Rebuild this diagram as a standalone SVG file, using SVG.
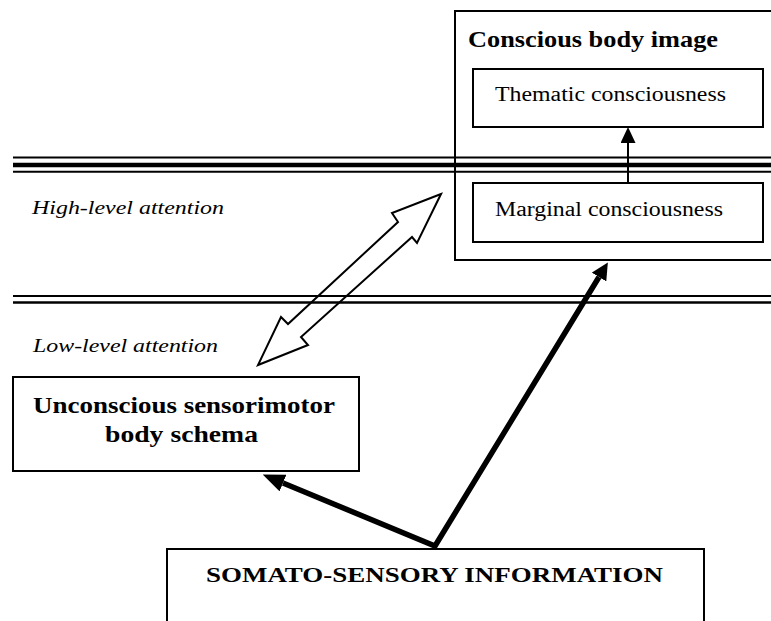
<svg xmlns="http://www.w3.org/2000/svg" width="771" height="621" viewBox="0 0 771 621">
<style>
.box{fill:#fff;stroke:#000;stroke-width:2}
.t{font-family:"Liberation Serif","Times New Roman",serif;fill:#000}
.b{font-weight:bold}
.i{font-style:italic}
.ln{stroke:#000;fill:none}
</style>
<defs>
<marker id="hL" markerUnits="userSpaceOnUse" viewBox="0 0 22 18" refX="0" refY="9" markerWidth="22" markerHeight="18" orient="auto-start-reverse"><path d="M0,0 L22,9 L0,18 z" fill="#000"/></marker>
<marker id="hR" markerUnits="userSpaceOnUse" viewBox="0 0 17 17" refX="0" refY="8.5" markerWidth="17" markerHeight="17" orient="auto"><path d="M0,0 L17,8.5 L0,17 z" fill="#000"/></marker>
<marker id="hS" markerUnits="userSpaceOnUse" viewBox="0 0 16 15" refX="0" refY="7.5" markerWidth="16" markerHeight="15" orient="auto"><path d="M0,0 L16,7.5 L0,15 z" fill="#000"/></marker>
</defs>

<g id="conscious-body-image">
<rect class="box" x="455" y="11" width="330" height="249"/>
<text class="t b" x="468" y="47" font-size="23" textLength="250" lengthAdjust="spacingAndGlyphs">Conscious body image</text>
</g>

<g id="levels">
<line class="ln" x1="13" y1="157.5" x2="771" y2="157.5" stroke-width="2"/>
<line class="ln" x1="13" y1="165" x2="771" y2="165" stroke-width="4.5"/>
<line class="ln" x1="13" y1="171.7" x2="771" y2="171.7" stroke-width="2"/>
<line class="ln" x1="13" y1="296" x2="771" y2="296" stroke-width="2"/>
<line class="ln" x1="13" y1="302.5" x2="771" y2="302.5" stroke-width="2.5"/>
<text class="t i" x="32" y="214" font-size="19.5" textLength="192" lengthAdjust="spacingAndGlyphs">High-level attention</text>
<text class="t i" x="33" y="352" font-size="19.5" textLength="185" lengthAdjust="spacingAndGlyphs">Low-level attention</text>
</g>

<g id="thematic">
<rect class="box" x="473" y="69" width="290" height="58"/>
<text class="t" x="495" y="101" font-size="20" textLength="231" lengthAdjust="spacingAndGlyphs">Thematic consciousness</text>
</g>

<g id="marginal">
<rect class="box" x="473" y="183" width="290" height="59"/>
<text class="t" x="495" y="216" font-size="20" textLength="228" lengthAdjust="spacingAndGlyphs">Marginal consciousness</text>
</g>

<g id="unconscious">
<rect class="box" x="13" y="377" width="346" height="94"/>
<text class="t b" x="33" y="413" font-size="23" textLength="302" lengthAdjust="spacingAndGlyphs">Unconscious sensorimotor</text>
<text class="t b" x="105" y="442" font-size="23" textLength="153" lengthAdjust="spacingAndGlyphs">body schema</text>
</g>

<g id="somato-sensory">
<rect class="box" x="167" y="549" width="537" height="90"/>
<text class="t b" x="206" y="582" font-size="22" textLength="457" lengthAdjust="spacingAndGlyphs">SOMATO-SENSORY INFORMATION</text>
</g>

<g id="connectors">
<line class="ln" x1="628" y1="183" x2="628" y2="143" stroke-width="2" marker-end="url(#hS)"/>
<polygon points="441,194 392,213 398,222 288,324 281,317 258,365 308,345 301,337 412,237 417,243" fill="none" stroke="#000" stroke-width="2" stroke-linejoin="miter"/>
<path d="M283,483 L435,546 L599,277" class="ln" stroke-width="5.5" stroke-linejoin="miter" marker-start="url(#hL)" marker-end="url(#hR)"/>
</g>
</svg>
